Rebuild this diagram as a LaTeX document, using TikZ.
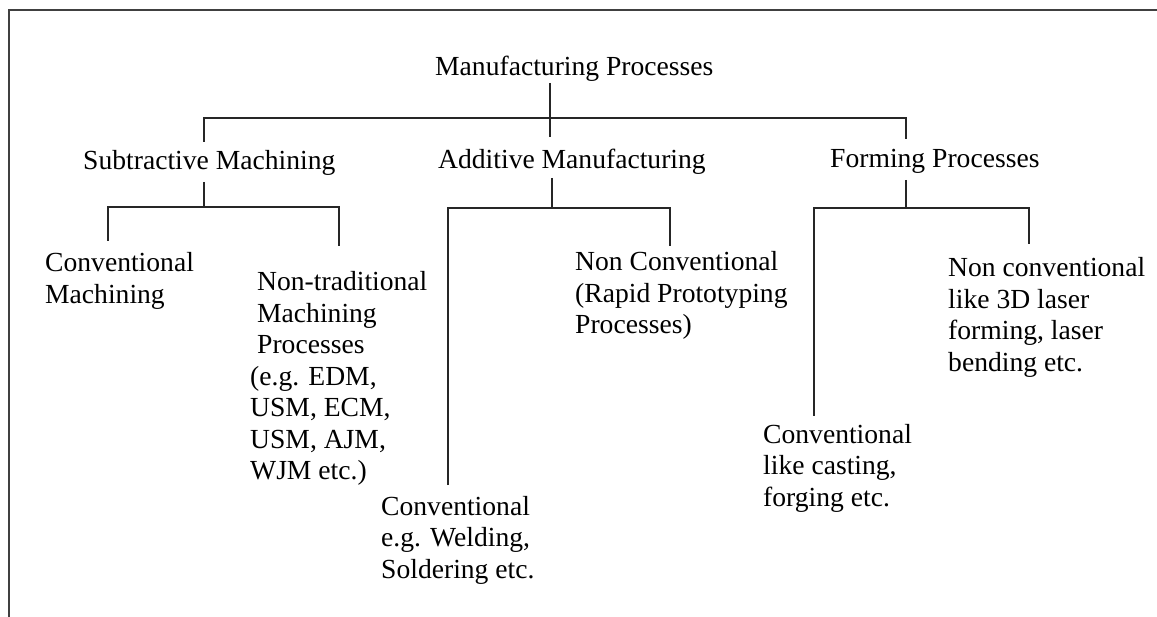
\documentclass[tikz,border=0pt]{standalone}
\usepackage{fontspec}
\setmainfont{Liberation Serif}
\begin{document}
\begin{tikzpicture}[x=1pt,y=-1pt,
  lbl/.style={inner sep=0pt,anchor=base west,font=\fontsize{27.6}{31.5}\selectfont},
  conn/.style={line width=1.1pt,black!85},
  framestyle/.style={line width=2pt,black!75}]
\useasboundingbox (0,0) rectangle (1157,617);
% frame
\coordinate (fa) at (9,617);
\coordinate (fb) at (9,10);
\coordinate (fc) at (1157,10);
\draw[framestyle] (fa) -- (fb) -- (fc);
% nodes
\node[lbl] (T) at (435,76) {Manufacturing Processes};
\node[lbl] (S) at (83,170) {Subtractive Machining};
\node[lbl] (A) at (438,169) {Additive Manufacturing};
\node[lbl] (F) at (830,168) {Forming Processes};
\node[lbl] (SC) at (45,272) {\begin{tabular}[t]{@{}l@{}}Conventional\\Machining\end{tabular}};
\node[lbl] (SN) at (250,291) {\begin{tabular}[t]{@{}l@{}}\hspace{7pt}Non-traditional\\\hspace{7pt}Machining\\\hspace{7pt}Processes\\(e.g. EDM,\\USM, ECM,\\USM, AJM,\\WJM etc.)\end{tabular}};
\node[lbl] (AN) at (575,271) {\begin{tabular}[t]{@{}l@{}}Non Conventional\\(Rapid Prototyping\\Processes)\end{tabular}};
\node[lbl] (AC) at (381,515) {\begin{tabular}[t]{@{}l@{}}Conventional\\e.g. Welding,\\Soldering etc.\end{tabular}};
\node[lbl] (FN) at (948,277) {\begin{tabular}[t]{@{}l@{}}Non conventional\\like 3D laser\\forming, laser\\bending etc.\end{tabular}};
\node[lbl] (FC) at (763,443) {\begin{tabular}[t]{@{}l@{}}Conventional\\like casting,\\forging etc.\end{tabular}};
% level 1 connectors
\coordinate (t0) at (550,83);
\coordinate (t1) at (550,137);
\coordinate (h1) at (204,118);
\coordinate (h2) at (906,118);
\coordinate (s1) at (204,142);
\coordinate (f1) at (906,139);
\draw[conn] (t0) -- (t1);
\draw[conn] (s1) -- (h1) -- (h2) -- (f1);
% subtractive subtree
\coordinate (s2) at (204,182);
\coordinate (s3) at (204,207);
\coordinate (s4) at (108,207);
\coordinate (s5) at (108,241);
\coordinate (s6) at (339,207);
\coordinate (s7) at (339,246);
\draw[conn] (s2) -- (s3);
\draw[conn] (s5) -- (s4) -- (s6) -- (s7);
% additive subtree
\coordinate (a1) at (552,178);
\coordinate (a2) at (552,208);
\coordinate (a3) at (448,208);
\coordinate (a4) at (448,485);
\coordinate (a5) at (670,208);
\coordinate (a6) at (670,246);
\draw[conn] (a1) -- (a2);
\draw[conn] (a4) -- (a3) -- (a5) -- (a6);
% forming subtree
\coordinate (b1) at (906,180);
\coordinate (b2) at (906,208);
\coordinate (b3) at (814,208);
\coordinate (b4) at (814,416);
\coordinate (b5) at (1029,208);
\coordinate (b6) at (1029,244);
\draw[conn] (b1) -- (b2);
\draw[conn] (b4) -- (b3) -- (b5) -- (b6);
\end{tikzpicture}
\end{document}
